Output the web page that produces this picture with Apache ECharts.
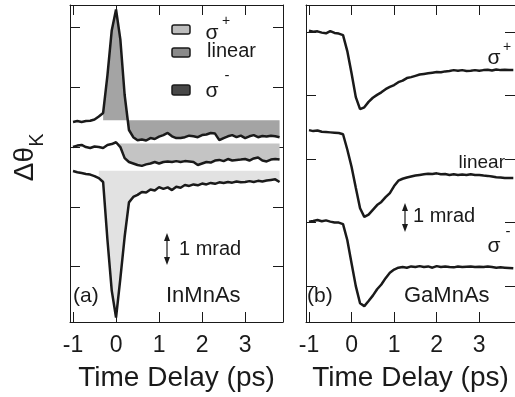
<!DOCTYPE html>
<html>
<head>
<meta charset="utf-8">
<script src="https://cdn.jsdelivr.net/npm/echarts@6/dist/echarts.min.js"></script>
<style>
  html, body { margin: 0; padding: 0; background: #fff; }
  #chart { width: 515px; height: 397px; }
</style>
</head>
<body>
<div id="chart"></div>
<script>
// time delay (ps), shared by all traces
const timeDelay = [-1.0, -0.9, -0.8, -0.7, -0.6, -0.5, -0.4, -0.3, -0.2, -0.1,
  0.0, 0.1, 0.2, 0.3, 0.4, 0.5, 0.6, 0.7, 0.8, 0.9,
  1.0, 1.1, 1.2, 1.3, 1.4, 1.5, 1.6, 1.7, 1.8, 1.9,
  2.0, 2.1, 2.2, 2.3, 2.4, 2.5, 2.6, 2.7, 2.8, 2.9,
  3.0, 3.1, 3.2, 3.3, 3.4, 3.5, 3.6, 3.7, 3.8];

// (a) InMnAs, offset traces (top / middle / bottom)
const inmnasSigmaMinus = [0.84, 0.87, 0.84, 0.87, 0.88, 0.92, 1.02, 1.14, 2.4, 3.9,
  4.6, 3.6, 1.74, 0.57, 0.33, 0.23, 0.25, 0.22, 0.3, 0.27,
  0.35, 0.4, 0.47, 0.36, 0.3, 0.3, 0.33, 0.38, 0.36, 0.33,
  0.4, 0.42, 0.47, 0.45, 0.23, 0.3, 0.36, 0.4, 0.33, 0.38,
  0.3, 0.36, 0.4, 0.33, 0.37, 0.35, 0.38, 0.36, 0.33];
const inmnasLinear = [0.0, 0.05, 0.07, 0.0, -0.03, 0.02, 0.0, -0.03, 0.07, 0.1,
  0.16, 0.0, -0.37, -0.5, -0.55, -0.6, -0.63, -0.58, -0.55, -0.5,
  -0.55, -0.5, -0.48, -0.5, -0.47, -0.5, -0.47, -0.48, -0.5, -0.6,
  -0.55, -0.5, -0.52, -0.45, -0.43, -0.47, -0.4, -0.45, -0.43, -0.42,
  -0.4, -0.45, -0.38, -0.35, -0.45, -0.48, -0.42, -0.4, -0.42];
const inmnasSigmaPlus = [-0.8, -0.84, -0.87, -0.9, -0.92, -0.97, -1.04, -1.17, -3.1, -4.8,
  -5.7, -4.4, -3.0, -1.85, -1.67, -1.6, -1.5, -1.52, -1.42, -1.45,
  -1.34, -1.4, -1.35, -1.44, -1.33, -1.36, -1.27, -1.3, -1.25, -1.28,
  -1.22, -1.25, -1.2, -1.23, -1.18, -1.2, -1.17, -1.19, -1.15, -1.18,
  -1.17, -1.14, -1.17, -1.13, -1.15, -1.12, -1.1, -1.08, -1.17];

// shaded areas in (a): start time and reference level of each trace
const fillStart = [-0.3, 0.0, -0.4];
const fillLevel = [0.9, 0.12, -0.79];
const fillColors = ['#a4a4a4', '#c4c4c4', '#e2e2e2'];

// (b) GaMnAs
const gamnasSigmaPlus = [4.04, 4.01, 4.02, 3.98, 3.96, 4.03, 3.97, 3.95, 3.9, 3.4,
  2.7, 1.95, 1.57, 1.63, 1.8, 1.93, 2.02, 2.1, 2.2, 2.27,
  2.33, 2.42, 2.47, 2.55, 2.58, 2.62, 2.66, 2.68, 2.7, 2.72,
  2.74, 2.73, 2.76, 2.77, 2.8, 2.78, 2.8, 2.77, 2.78, 2.8,
  2.78, 2.8, 2.81, 2.79, 2.82, 2.8, 2.81, 2.8, 2.8];
const gamnasLinear = [0.91, 0.88, 0.9, 0.86, 0.85, 0.84, 0.83, 0.82, 0.78, 0.3,
  -0.24, -0.9, -1.55, -1.82, -1.75, -1.6, -1.45, -1.35, -1.2, -1.07,
  -0.85, -0.68, -0.62, -0.58, -0.55, -0.52, -0.5, -0.48, -0.46, -0.47,
  -0.45, -0.48, -0.47, -0.5, -0.48, -0.5, -0.49, -0.5, -0.48, -0.5,
  -0.5, -0.52, -0.53, -0.55, -0.57, -0.58, -0.6, -0.6, -0.6];
const gamnasSigmaMinus = [-1.97, -1.95, -1.92, -1.96, -1.93, -1.97, -2.0, -2.0, -2.05, -2.55,
  -3.28, -4.0, -4.54, -4.63, -4.47, -4.3, -4.1, -3.95, -3.75, -3.58,
  -3.48, -3.42, -3.4, -3.42, -3.38, -3.4, -3.37, -3.4, -3.38, -3.42,
  -3.37, -3.4, -3.38, -3.4, -3.41, -3.38, -3.4, -3.39, -3.38, -3.4,
  -3.39, -3.4, -3.38, -3.4, -3.42, -3.41, -3.42, -3.43, -3.44];

const xTicks = [-1, 0, 1, 2, 3];
const yTicks = [-4, -2, 0, 2, 4];

const FONT = '"Liberation Sans", Arial, Helvetica, sans-serif';
const INK = '#1a1a1a';

const chart = echarts.init(document.getElementById('chart'));

const pairs = (vals) => timeDelay.map((t, i) => [t, vals[i]]);

function xAxis(gi, position, min, max, labels) {
  return {
    type: 'value', gridIndex: gi, position, min, max,
    name: labels ? 'Time Delay (ps)' : '',
    nameLocation: 'middle', nameGap: 42,
    nameTextStyle: { fontSize: 28, color: INK, fontFamily: FONT },
    axisLine: { show: true, onZero: false, lineStyle: { color: INK, width: 1 } },
    axisTick: { show: true, inside: true, length: 10, customValues: xTicks, lineStyle: { color: INK } },
    axisLabel: { show: labels, customValues: xTicks, fontSize: 23, color: INK, fontFamily: FONT, margin: 12 },
    splitLine: { show: false }
  };
}

function yAxis(gi, position, min, max) {
  return {
    type: 'value', gridIndex: gi, position, min, max,
    axisLine: { show: true, onZero: false, lineStyle: { color: INK, width: 1 } },
    axisTick: { show: true, inside: true, length: 10, customValues: yTicks, lineStyle: { color: INK } },
    axisLabel: { show: false },
    splitLine: { show: false }
  };
}

function trace(vals, ai) {
  return {
    type: 'line', xAxisIndex: ai, yAxisIndex: ai, data: pairs(vals),
    symbol: 'none', silent: true, z: 3,
    lineStyle: { color: INK, width: 2.5 }
  };
}

function shade(vals, k) {
  return {
    type: 'line', xAxisIndex: 0, yAxisIndex: 0,
    data: pairs(vals).filter(p => p[0] >= fillStart[k] - 1e-9),
    symbol: 'none', silent: true, z: 1,
    lineStyle: { width: 0 },
    areaStyle: { color: fillColors[k], opacity: 1, origin: fillLevel[k] }
  };
}

function text(x, y, str, size, align, rot) {
  return {
    type: 'text', x, y, rotation: rot || 0, silent: true,
    style: { text: str, fontSize: size, fontFamily: FONT, fill: INK, align: align || 'left', verticalAlign: 'middle' }
  };
}

function box(x, y, w, h, color) {
  return {
    type: 'rect', shape: { x, y, width: w, height: h, r: 2 }, silent: true,
    style: { fill: color, stroke: INK, lineWidth: 1.5 }
  };
}

function arrow(x, y1, y2) {
  return {
    type: 'group', silent: true, children: [
      { type: 'line', shape: { x1: x, y1: y1 + 5, x2: x, y2: y2 - 5 }, style: { stroke: INK, lineWidth: 1.2 } },
      { type: 'polygon', shape: { points: [[x, y1], [x - 3, y1 + 8], [x + 3, y1 + 8]] }, style: { fill: INK } },
      { type: 'polygon', shape: { points: [[x, y2], [x - 3, y2 - 8], [x + 3, y2 - 8]] }, style: { fill: INK } }
    ]
  };
}

chart.setOption({
  backgroundColor: '#fff',
  animation: false,
  grid: [
    { left: 70, top: 5, width: 213, height: 317 },
    { left: 306, top: 5, width: 211, height: 317 }
  ],
  xAxis: [
    xAxis(0, 'bottom', -1.07, 3.88, true),
    xAxis(1, 'bottom', -1.07, 3.84, true),
    xAxis(0, 'top', -1.07, 3.88, false),
    xAxis(1, 'top', -1.07, 3.84, false)
  ],
  yAxis: [
    yAxis(0, 'left', -5.85, 4.75),
    yAxis(1, 'left', -5.13, 4.85),
    yAxis(0, 'right', -5.85, 4.75),
    yAxis(1, 'right', -5.13, 4.85)
  ],
  series: [
    shade(inmnasSigmaMinus, 0),
    shade(inmnasLinear, 1),
    shade(inmnasSigmaPlus, 2),
    trace(inmnasSigmaMinus, 0),
    trace(inmnasLinear, 0),
    trace(inmnasSigmaPlus, 0),
    trace(gamnasSigmaPlus, 1),
    trace(gamnasLinear, 1),
    trace(gamnasSigmaMinus, 1)
  ],
  graphic: [
    // y-axis title
    text(25, 164, 'Δθ', 28, 'center', Math.PI / 2),
    text(37, 140, 'K', 20, 'center', Math.PI / 2),
    // legend of panel (a)
    box(172, 25, 18, 9, '#bdbdbd'),
    box(172, 48, 18, 9, '#8a8a8a'),
    box(172, 85, 18, 10, '#484848'),
    text(212, 33, 'σ', 21, 'center'),
    text(226, 21, '+', 14, 'center'),
    text(207, 51, 'linear', 20, 'left'),
    text(212, 91, 'σ', 21, 'center'),
    text(227, 76, '-', 15, 'center'),
    // panel (a) notes
    arrow(167, 233, 265),
    text(179, 249, '1 mrad', 20, 'left'),
    text(73, 296, '(a)', 21, 'left'),
    text(166, 296, 'InMnAs', 22, 'left'),
    // panel (b) notes
    text(494, 58, 'σ', 21, 'center'),
    text(507, 47, '+', 14, 'center'),
    text(505, 163, 'linear', 19, 'right'),
    text(494, 246, 'σ', 21, 'center'),
    text(508, 232, '-', 15, 'center'),
    arrow(405, 203, 232),
    text(413, 216, '1 mrad', 20, 'left'),
    text(307, 296, '(b)', 21, 'left'),
    text(404, 296, 'GaMnAs', 22, 'left')
  ]
});
</script>
</body>
</html>
